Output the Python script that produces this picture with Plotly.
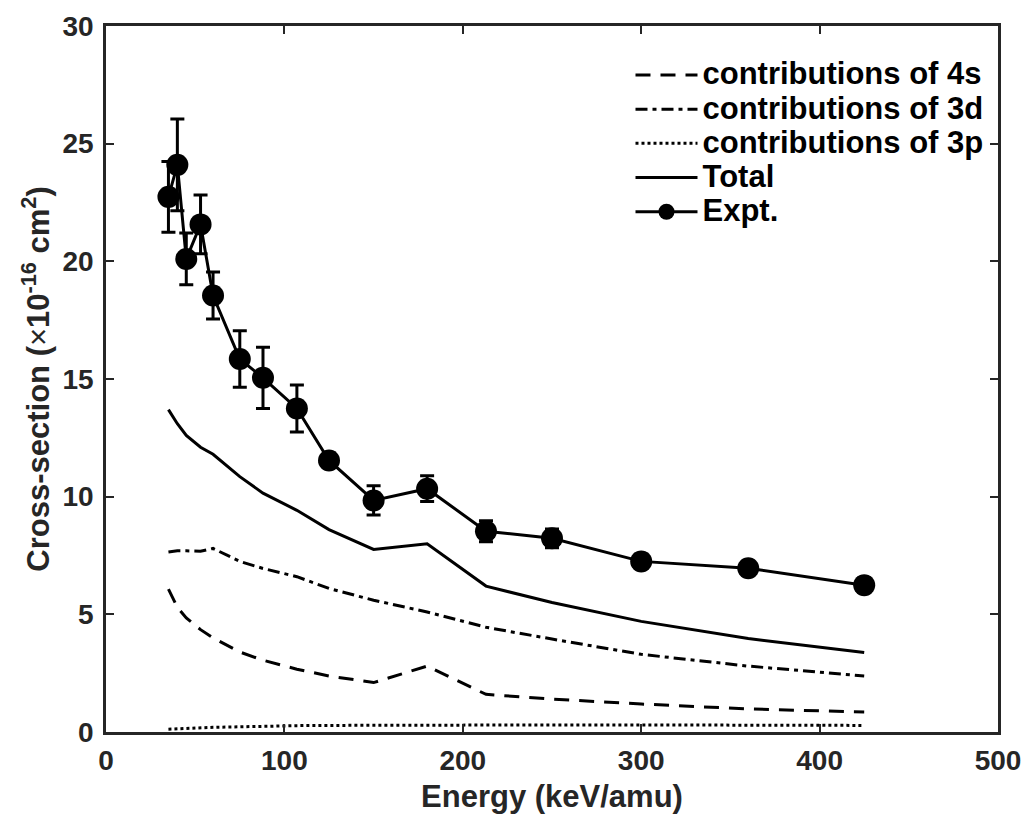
import plotly.graph_objects as go

energy = [35, 40, 45, 53, 60, 75, 88, 107, 125, 150, 180, 213, 250, 300, 360, 425]
sigma_4s = [6.07, 5.3, 4.85, 4.35, 4.0, 3.4, 3.05, 2.67, 2.38, 2.1, 2.8, 1.6, 1.4, 1.19, 0.98, 0.85]
sigma_3d = [7.65, 7.7, 7.7, 7.68, 7.8, 7.25, 6.95, 6.6, 6.1, 5.6, 5.1, 4.45, 3.95, 3.3, 2.8, 2.38]
sigma_3p = [0.12, 0.14, 0.16, 0.18, 0.2, 0.22, 0.25, 0.27, 0.28, 0.29, 0.3, 0.3, 0.3, 0.3, 0.29, 0.28]
sigma_total = [13.7, 13.1, 12.6, 12.1, 11.8, 10.85, 10.15, 9.42, 8.6, 7.76, 8.0, 6.2, 5.5, 4.7, 3.97, 3.38]
expt = [22.74, 24.1, 20.1, 21.57, 18.55, 15.85, 15.05, 13.75, 11.54, 9.84, 10.34, 8.53, 8.23, 7.25, 6.96, 6.24]
expt_err = [1.5, 1.95, 1.1, 1.25, 1.0, 1.2, 1.3, 1.0, 0.3, 0.62, 0.55, 0.45, 0.4, 0.3, 0.3, 0.3]

x_ticks = [0, 100, 200, 300, 400, 500]
y_ticks = [0, 5, 10, 15, 20, 25, 30]

names = ["contributions of 4s", "contributions of 3d", "contributions of 3p", "Total", "Expt."]

FONT = "Liberation Sans, Arial, sans-serif"
LW = 3


def lg(name):
    return "<span style='font-size:31px'>" + name + "</span>"


fig = go.Figure()
fig.add_trace(go.Scatter(x=energy, y=sigma_4s, mode="lines", name=lg(names[0]),
                         line=dict(color="black", width=LW, dash="15px,10px")))
fig.add_trace(go.Scatter(x=energy, y=sigma_3d, mode="lines", name=lg(names[1]),
                         line=dict(color="black", width=LW, dash="12px,5px,4px,5px")))
fig.add_trace(go.Scatter(x=energy, y=sigma_3p, mode="lines", name=lg(names[2]),
                         line=dict(color="black", width=LW, dash="3px,3px")))
fig.add_trace(go.Scatter(x=energy, y=sigma_total, mode="lines", name=lg(names[3]),
                         line=dict(color="black", width=LW)))
fig.add_trace(go.Scatter(x=energy, y=expt, mode="lines+markers", name=lg(names[4]),
                         line=dict(color="black", width=LW),
                         marker=dict(symbol="circle", size=22, color="black"),
                         error_y=dict(type="data", array=expt_err, visible=True,
                                      color="black", thickness=3, width=7)))

axis_common = dict(
    showline=True, linecolor="#262626", linewidth=2.5, mirror="ticks",
    ticks="inside", ticklen=8, tickwidth=2, tickcolor="#262626",
    showgrid=False, zeroline=False, automargin=False,
    ticklabeloverflow="allow",
    tickfont=dict(family=FONT, size=28, color="#262626", weight="bold"),
)

fig.update_layout(
    width=1028, height=816,
    margin=dict(l=106, r=30, t=26, b=84, autoexpand=False),
    plot_bgcolor="white", paper_bgcolor="white",
    font=dict(family=FONT, color="#262626"),
    showlegend=True,
    legend=dict(x=0.588, y=0.962, xanchor="left", yanchor="top",
                bgcolor="rgba(0,0,0,0)", borderwidth=0,
                tracegroupgap=0, itemwidth=62,
                font=dict(family=FONT, size=24, color="black", weight="bold")),
    xaxis=dict(range=[0, 500], tickmode="array", tickvals=x_ticks,
               ticklabelstandoff=2,
               title=dict(text="Energy (keV/amu)", standoff=10,
                          font=dict(family=FONT, size=31, color="#262626", weight="bold")),
               **axis_common),
    yaxis=dict(range=[0, 30], tickmode="array", tickvals=y_ticks,
               ticklabelstandoff=4,
               title=dict(text="Cross-section (<span style='font-weight:normal'>×</span>10<sup>-16</sup> cm<sup>2</sup>)",
                          standoff=4,
                          font=dict(family=FONT, size=31, color="#262626", weight="bold")),
               **axis_common),
)

fig.write_html("out.html")
